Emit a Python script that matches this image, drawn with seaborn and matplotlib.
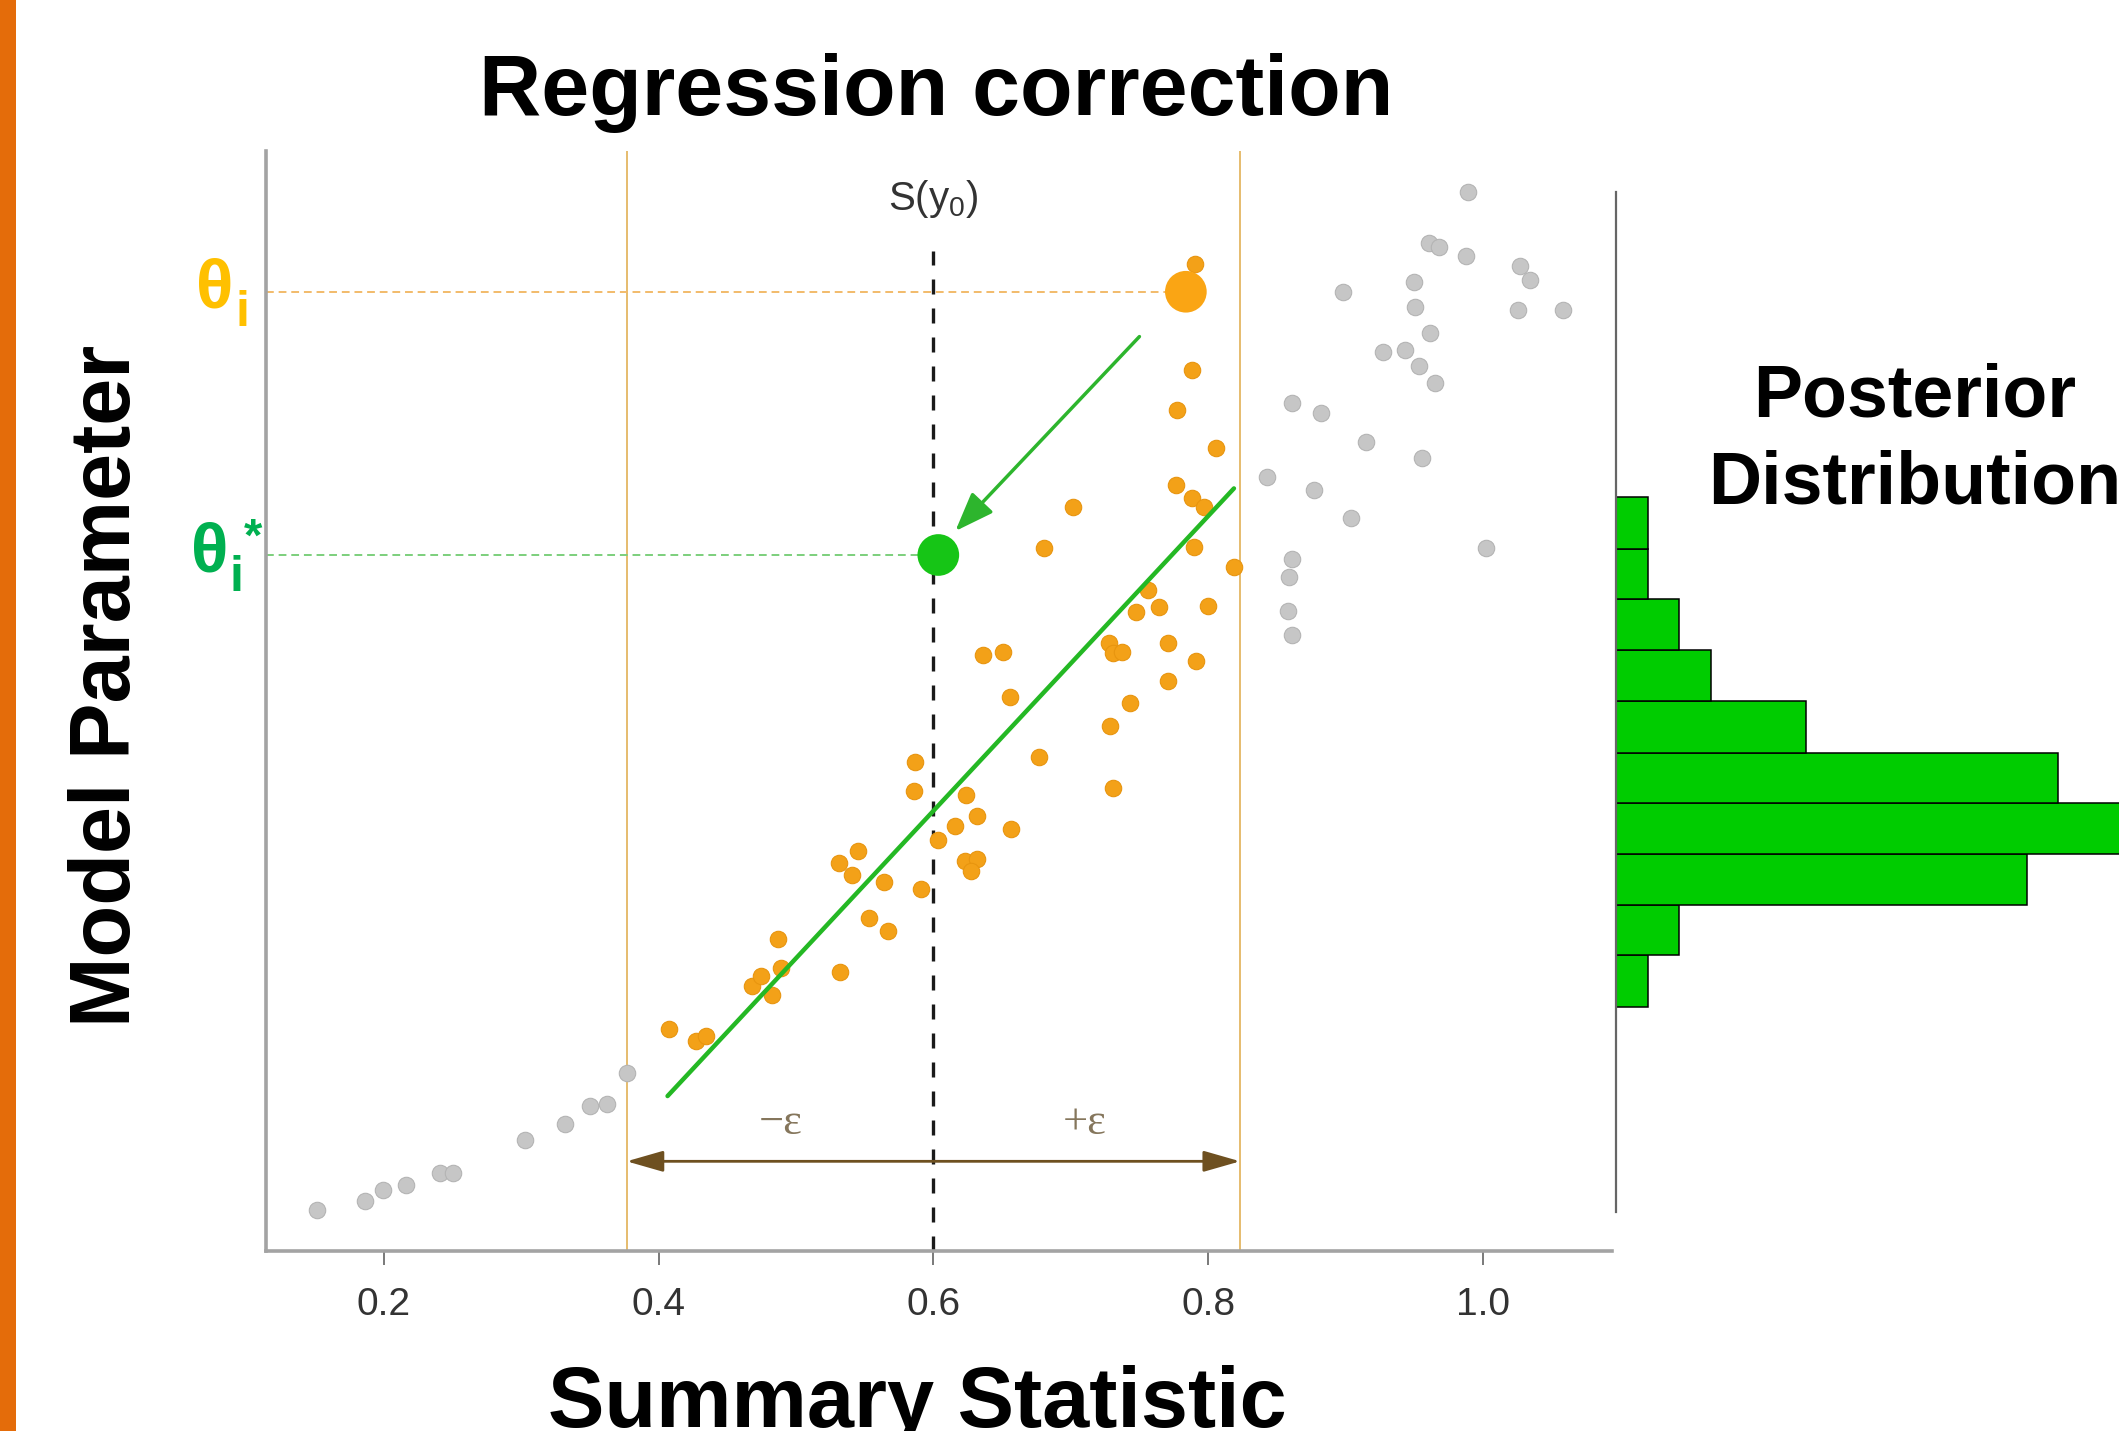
import numpy as np
import seaborn as sns
import matplotlib.pyplot as plt
from matplotlib.patches import Rectangle

# simulations outside the tolerance window (summary statistic, parameter)
rejected_x = [0.1514, 0.1862, 0.1995, 0.2162, 0.2409, 0.2502, 0.3028, 0.3318, 0.3501, 0.3623, 0.3771,
              0.9893, 0.9609, 0.9681, 0.9875, 1.0269, 1.0340, 0.8985, 0.9496, 0.9505, 1.0259, 1.0584,
              0.9618, 0.9274, 0.9430, 0.9538, 0.9648, 0.8608, 0.8822, 0.9147, 0.9560, 0.8430, 0.8773,
              0.9041, 1.0024, 0.8611, 0.8591, 0.8585, 0.8609]
rejected_y = [0.30, 0.37, 0.45, 0.485, 0.58, 0.58, 0.82, 0.94, 1.07, 1.09, 1.32,
              7.842, 7.46, 7.435, 7.365, 7.292, 7.188, 7.102, 7.176, 6.99, 6.966, 6.966,
              6.793, 6.658, 6.67, 6.552, 6.424, 6.28, 6.206, 5.992, 5.869, 5.733, 5.634,
              5.424, 5.203, 5.123, 4.987, 4.74, 4.561]

# accepted simulations (inside +-eps)
accepted_x = [0.4078, 0.4273, 0.4347, 0.4679, 0.4744, 0.4825, 0.4890, 0.4868, 0.5322, 0.5312,
              0.5410, 0.5452, 0.5534, 0.5644, 0.5670, 0.5908, 0.5865, 0.5858, 0.6037, 0.6157,
              0.6239, 0.6320, 0.6232, 0.6320, 0.6277, 0.6564, 0.6768, 0.6557, 0.6359, 0.6509,
              0.6805, 0.7015, 0.7285, 0.7311, 0.7431, 0.7708, 0.7912, 0.7279, 0.7311, 0.7376,
              0.7711, 0.7474, 0.7646, 0.8000, 0.7561, 0.7896, 0.8188, 0.7763, 0.7886, 0.7967,
              0.8055, 0.7773, 0.7886, 0.7903]
accepted_y = [1.643, 1.552, 1.589, 1.964, 2.038, 1.897, 2.095, 2.309, 2.062, 2.872,
              2.785, 2.965, 2.464, 2.731, 2.366, 2.679, 3.619, 3.409, 3.044, 3.148,
              3.377, 3.222, 2.884, 2.901, 2.817, 3.126, 3.661, 4.105, 4.413, 4.433,
              5.202, 5.511, 3.888, 3.427, 4.06, 4.221, 4.37, 4.50, 4.426, 4.438,
              4.50, 4.734, 4.766, 4.776, 4.894, 5.215, 5.067, 5.671, 5.572, 5.511,
              5.942, 6.226, 6.522, 7.311]

theta_i_x, theta_i_y = 0.7838, 7.102
theta_star_x, theta_star_y = 0.6036, 5.153
s_obs = 0.6
eps = 0.2233
sobs_top = 7.40
reg_x = [0.4065, 0.8188]
reg_y = [1.147, 5.646]
arrow_x = [0.750, 0.616]
arrow_y = [6.77, 5.33]
eps_arrow_y = 0.664

post_edges = [1.81, 2.19, 2.56, 2.94, 3.32, 3.69, 4.07, 4.45, 4.83, 5.20, 5.58]
post_counts = [1, 2, 13, 16, 14, 6, 3, 2, 1, 1]

xticks = [0.2, 0.4, 0.6, 0.8, 1.0]
xtick_labels = ["0.2", "0.4", "0.6", "0.8", "1.0"]

W, H = 2119, 1431

sns.set_style("ticks")
plt.rcParams['font.family'] = ['Liberation Sans', 'DejaVu Sans']
plt.rcParams['text.color'] = 'black'
plt.rcParams['mathtext.fontset'] = 'custom'
plt.rcParams['mathtext.rm'] = 'Liberation Sans'
plt.rcParams['mathtext.it'] = 'Liberation Sans'


def fx(px):
    return px / W


def fy(py):
    return 1 - py / H


fig = plt.figure(figsize=(W / 100, H / 100), dpi=100)
fig.patch.set_facecolor("white")

ax = fig.add_axes([fx(266), fy(1251), fx(1612) - fx(266), (1251 - 151) / H])
hax = fig.add_axes([fx(1616), fy(1212), 1 - fx(1616), (1212 - 191.5) / H])

# tolerance window and observed statistic
ax.axvline(s_obs - eps, color="#E2B055", lw=1.2, zorder=1)
ax.axvline(s_obs + eps, color="#E2B055", lw=1.2, zorder=1)
ax.vlines(s_obs, 0, sobs_top, colors="#1a1a1a", lw=2.4, linestyles=(0, (4.5, 4.2)), zorder=1)
ax.hlines(theta_i_y, 0.1142, theta_i_x, colors="#F2BB6A", lw=1.4, linestyles=(0, (4, 2.5)), zorder=1)
ax.hlines(theta_star_y, 0.1142, theta_star_x, colors="#7CCF7C", lw=1.4, linestyles=(0, (4, 2.5)), zorder=1)

sns.scatterplot(x=rejected_x, y=rejected_y, color="#C6C6C6", edgecolor="#B4B4B4", linewidth=0.8,
                s=140, ax=ax, zorder=2)
sns.scatterplot(x=accepted_x, y=accepted_y, color="#F3A118", edgecolor="#E8950F", linewidth=0.8,
                s=140, ax=ax, zorder=2)
sns.scatterplot(x=[theta_i_x], y=[theta_i_y], color="#FAA514", edgecolor="none", s=900, ax=ax, zorder=3)
sns.scatterplot(x=[theta_star_x], y=[theta_star_y], color="#16C516", edgecolor="none", s=900, ax=ax, zorder=3)

sns.lineplot(x=reg_x, y=reg_y, color="#24B824", lw=3.2, estimator=None, ax=ax, zorder=4)
ax.annotate("", xy=(arrow_x[1], arrow_y[1]), xytext=(arrow_x[0], arrow_y[0]),
            arrowprops=dict(arrowstyle="-|>,head_length=1.2,head_width=0.45", mutation_scale=20,
                            color="#2DB52D", lw=2.5, shrinkA=0, shrinkB=0), zorder=4)
ax.annotate("", xy=(s_obs + eps, eps_arrow_y), xytext=(s_obs - eps, eps_arrow_y),
            arrowprops=dict(arrowstyle="<|-|>,head_length=1.5,head_width=0.43", mutation_scale=15,
                            color="#6E5020", lw=2.0, shrinkA=0, shrinkB=0), zorder=4)

ax.text(s_obs, 7.706, r"S(y$_0$)", ha="center", va="baseline", fontsize=29, color="#333333")
ax.text(0.4887, 0.95, "\u2212\u03b5", ha="center", va="center", fontsize=32, color="#85765C",
        family=["Liberation Serif", "DejaVu Serif"])
ax.text(0.7098, 0.95, "+\u03b5", ha="center", va="center", fontsize=32, color="#85765C",
        family=["Liberation Serif", "DejaVu Serif"])

ax.set_xlim(0.1142, 1.094)
ax.set_ylim(0, 8.144)
ax.set_xticks(xticks)
ax.set_xticklabels(xtick_labels)
ax.set_yticks([])
ax.set_xlabel("")
ax.set_ylabel("")
ax.tick_params(axis="x", direction="out", length=10, width=1.1, color="#555555", pad=16,
               labelsize=28, labelcolor="#333333")
for side in ["top", "right"]:
    ax.spines[side].set_visible(False)
for side in ["left", "bottom"]:
    ax.spines[side].set_color("#A3A3A3")
    ax.spines[side].set_linewidth(2.6)

# posterior histogram of corrected parameters
post_centers = np.add(post_edges[:-1], post_edges[1:]) / 2
sns.histplot(y=post_centers, weights=post_counts, bins=post_edges, color="#00CC00", edgecolor="black",
             linewidth=1.1, alpha=1, ax=hax)
hax.set_xlim(0, 15.92)
hax.set_ylim(0.291, 7.843)
hax.set_xticks([])
hax.set_yticks([])
hax.set_xlabel("")
hax.set_ylabel("")
for side in ["top", "right", "bottom"]:
    hax.spines[side].set_visible(False)
hax.spines["left"].set_color("#666666")
hax.spines["left"].set_linewidth(1.6)

# labels
fig.text(fx(936), fy(115), "Regression correction", ha="center", va="baseline", fontsize=62,
         fontweight="bold", color="black")
fig.text(fx(130), fy(686), "Model Parameter", rotation=90, rotation_mode="anchor", ha="center",
         va="baseline", fontsize=61, fontweight="bold", color="black")
fig.text(fx(917), fy(1427), "Summary Statistic", ha="center", va="baseline", fontsize=61,
         fontweight="bold", color="black")
fig.text(fx(1915), fy(416.5), "Posterior", ha="center", va="baseline", fontsize=53, fontweight="bold",
         color="black")
fig.text(fx(1915), fy(504), "Distribution", ha="center", va="baseline", fontsize=53, fontweight="bold",
         color="black")

fig.text(fx(215), fy(307), "\u03b8", ha="center", va="baseline", fontsize=50, fontweight="bold",
         color="#FFC000")
fig.text(fx(242), fy(326), "i", ha="center", va="baseline", fontsize=36, fontweight="bold",
         color="#FFC000")
fig.text(fx(210), fy(572), "\u03b8", ha="center", va="baseline", fontsize=50, fontweight="bold",
         color="#00B050")
fig.text(fx(236.5), fy(591), "i", ha="center", va="baseline", fontsize=36, fontweight="bold",
         color="#00B050")
fig.text(fx(253.5), fy(551), "*", ha="center", va="baseline", fontsize=34, fontweight="bold",
         color="#00B050")

# slide accent stripe
fig.add_artist(Rectangle((0, 0), fx(16), 1, transform=fig.transFigure, facecolor="#E46C0A",
                         edgecolor="none", zorder=10))

fig.savefig("out.png", dpi=100)
